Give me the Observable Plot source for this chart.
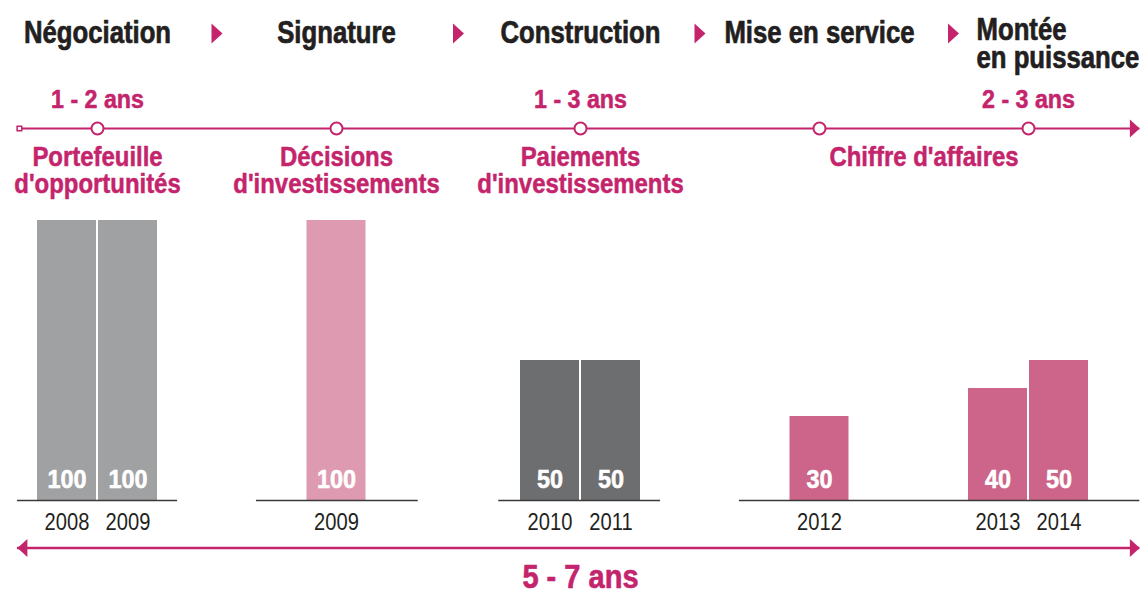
<!DOCTYPE html>
<html><head><meta charset="utf-8">
<script src="https://cdn.jsdelivr.net/npm/d3@7"></script>
<script src="https://cdn.jsdelivr.net/npm/@observablehq/plot@0.6"></script>
<style>
html,body{margin:0;padding:0;background:#fff;}
#chart svg{display:block;}
</style></head><body><div id="chart"></div>
<script>
// ---- data ----
const stages = ["Négociation", "Signature", "Construction", "Mise en service", "Montée\nen puissance"];
const durationLabels = ["1 - 2 ans", "1 - 3 ans", "2 - 3 ans"];
const durationStages = ["Négociation", "Construction", "Montée\nen puissance"];
const milestones = ["Portefeuille\nd'opportunités", "Décisions\nd'investissements", "Paiements\nd'investissements", "Chiffre d'affaires"];
const milestoneFrom = ["Négociation", "Signature", "Construction", "Mise en service"];
const milestoneTo = ["Négociation", "Signature", "Construction", "Montée\nen puissance"];
const milestoneColors = ["#a0a1a3", "#de9ab0", "#6d6e70", "#cc6589"];
const barYears = [2008, 2009, 2009, 2010, 2011, 2012, 2013, 2014];
const barValues = [100, 100, 100, 50, 50, 30, 40, 50];
const barStages = ["Négociation", "Négociation", "Signature", "Construction", "Construction", "Mise en service", "Montée\nen puissance", "Montée\nen puissance"];
const barMilestones = [milestones[0], milestones[0], milestones[1], milestones[2], milestones[2], milestones[3], milestones[3], milestones[3]];
const totalSpan = "5 - 7 ans";

// ---- derived layout ----
const PINK = "#c4246c";
const INK = "#231f20";
const FONT = "'Liberation Sans', Arial, sans-serif";
const col = s => stages.indexOf(s);
const spanStart = -0.335, spanEnd = 4.46;

const bars = barYears.map((year, i) => ({year, value: barValues[i], stage: barStages[i], milestone: barMilestones[i], col: col(barStages[i])}));
bars.forEach(b => {
  const same = bars.filter(o => o.stage === b.stage);
  b.slot = same.length === 1 ? "single" : (same.indexOf(b) === 0 ? "left" : "right");
});
const slotDx = {left: -30.5, single: 0, right: 30.5};

const baselines = milestones.map((m, i) => ({
  x1: col(milestoneFrom[i]) - 0.335,
  x2: i === milestones.length - 1 ? spanEnd : col(milestoneTo[i]) + 0.335
}));

const arrowHead = {
  draw(ctx, size) {
    const r = Math.sqrt(size / Math.PI);
    ctx.moveTo(0.55 * r, 0);
    ctx.lineTo(-0.55 * r, -r);
    ctx.lineTo(-0.55 * r, r);
    ctx.closePath();
  }
};

const barMarks = [];
for (const slot of ["left", "single", "right"]) {
  const sub = bars.filter(b => b.slot === slot);
  const dx = slotDx[slot];
  barMarks.push(
    Plot.rect(sub, {x1: "col", x2: "col", y1: 0, y2: "value", fill: "milestone", insetLeft: -29.5, insetRight: -29.5, dx}),
    Plot.text(sub, {x: "col", y: 0, text: d => String(d.value), dx, dy: -21, fill: "white", stroke: "white", strokeWidth: 0.6, fontSize: 26, fontWeight: "bold", className: "sx90"}),
    Plot.text(sub, {x: "col", y: 0, text: d => String(d.year), dx, dy: 22, fill: INK, fontSize: 24, className: "sx84"})
  );
}

const chart = Plot.plot({
  width: 1146, height: 592,
  marginTop: 0, marginRight: 0, marginBottom: 0, marginLeft: 0,
  x: {type: "linear", domain: [0, 1, 2, 3, 4, 5], range: [97, 336, 580, 819, 1028, 1270], axis: null},
  y: {type: "linear", domain: [0, 100], range: [500, 220], axis: null},
  color: {domain: milestones, range: milestoneColors},
  style: {fontFamily: FONT, background: "white"},
  marks: [
    // stage headers
    Plot.text(stages.slice(0, 4), {x: (d, i) => i, frameAnchor: "top", lineAnchor: "top", dy: 20, text: d => d, fontSize: 31, fontWeight: "bold", fill: INK, stroke: INK, strokeWidth: 0.7, className: "sx83"}),
    Plot.text(stages.slice(4), {x: () => 4, frameAnchor: "top", lineAnchor: "top", textAnchor: "start", dx: -52, dy: 20, text: d => d, fontSize: 31, fontWeight: "bold", fill: INK, stroke: INK, strokeWidth: 0.7, lineHeight: 0.9, className: "sx83"}),
    Plot.dot(stages.slice(1, 4), {x: (d, i) => i + 0.5, frameAnchor: "top", dy: 33, symbol: arrowHead, r: 10, fill: PINK, stroke: null}),
    Plot.dot(stages.slice(4), {x: () => 4, frameAnchor: "top", dx: -75, dy: 33, symbol: arrowHead, r: 10, fill: PINK, stroke: null}),
    // durations
    Plot.text(durationLabels, {x: (d, i) => col(durationStages[i]), frameAnchor: "top", lineAnchor: "top", dy: 90, text: d => d, fontSize: 25, fontWeight: "bold", fill: PINK, stroke: PINK, strokeWidth: 0.5, className: "sx93"}),
    // timeline
    Plot.ruleY([0], {x1: () => spanStart, x2: () => spanEnd, dy: -372, stroke: PINK, strokeWidth: 2}),
    Plot.dot([0], {x: () => spanStart, y: () => 0, dy: -372, dx: 2, symbol: "square", r: 2.6, fill: "white", stroke: PINK, strokeWidth: 1.5}),
    Plot.dot([0], {x: () => spanEnd, y: () => 0, dy: -372, dx: -5, symbol: arrowHead, r: 9, fill: PINK, stroke: null}),
    Plot.dot(stages, {x: (d, i) => i, y: () => 0, dy: -372, r: 6, fill: "white", stroke: PINK, strokeWidth: 2}),
    // milestones
    Plot.text(milestones, {x: (d, i) => (col(milestoneFrom[i]) + col(milestoneTo[i])) / 2, frameAnchor: "top", lineAnchor: "top", dy: 146, text: d => d, fontSize: 27.5, fontWeight: "bold", fill: PINK, stroke: PINK, strokeWidth: 0.5, lineHeight: 0.98, className: "sx87"}),
    // bars
    ...barMarks,
    Plot.ruleY(baselines, {x1: "x1", x2: "x2", y: () => 0, stroke: "#3a3a3a", strokeWidth: 1.5}),
    // bottom span arrow
    Plot.ruleY([0], {x1: () => spanStart, x2: () => spanEnd, dy: 47.5, stroke: PINK, strokeWidth: 2.5}),
    Plot.dot([0], {x: () => spanStart, y: () => 0, dy: 47.5, dx: 5, symbol: arrowHead, rotate: 180, r: 9, fill: PINK, stroke: null}),
    Plot.dot([0], {x: () => spanEnd, y: () => 0, dy: 47.5, dx: -5, symbol: arrowHead, r: 9, fill: PINK, stroke: null}),
    Plot.text([totalSpan], {x: () => 2, frameAnchor: "top", lineAnchor: "top", dy: 564, text: d => d, fontSize: 33, fontWeight: "bold", fill: PINK, stroke: PINK, strokeWidth: 0.6, className: "sx88"})
  ]
});

// horizontal condensing of the text (narrow typeface look)
const scales = {sx83: 0.83, sx84: 0.84, sx87: 0.87, sx88: 0.88, sx90: 0.9, sx93: 0.93};
for (const [cls, s] of Object.entries(scales)) {
  chart.querySelectorAll(`.${cls} text`).forEach(t => {
    let tr = t.getAttribute("transform");
    if (!tr) {
      const x = +(t.getAttribute("x") || 0), y = +(t.getAttribute("y") || 0);
      t.removeAttribute("x"); t.removeAttribute("y");
      tr = `translate(${x},${y})`;
    }
    t.setAttribute("transform", `${tr} scale(${s},1)`);
  });
}
document.getElementById("chart").appendChild(chart);
</script>
</body></html>
